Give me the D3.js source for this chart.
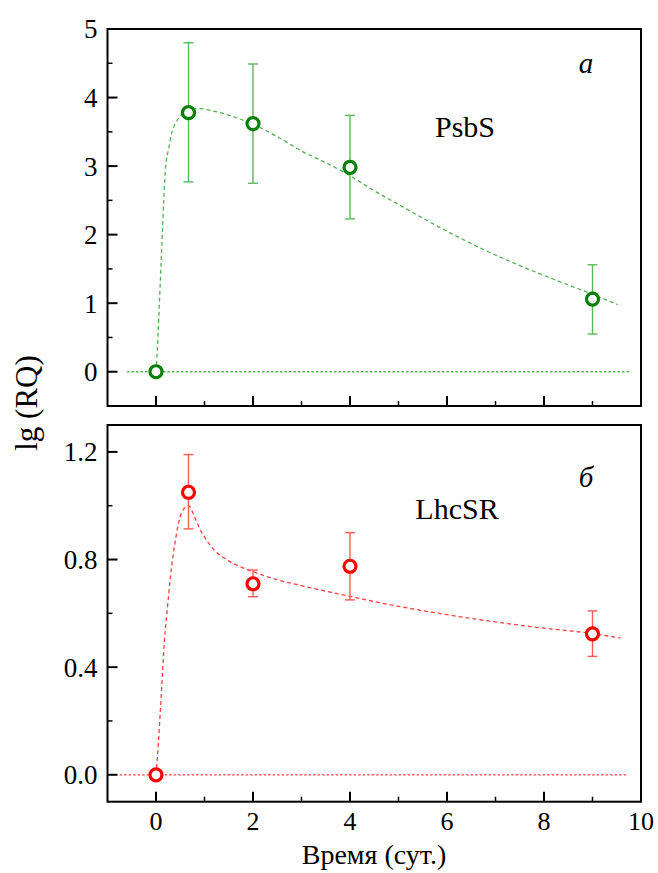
<!DOCTYPE html>
<html>
<head>
<meta charset="utf-8">
<script src="https://cdn.jsdelivr.net/npm/d3@7"></script>
<style>
  body { margin: 0; background: #fff; }
  svg text { font-family: "Liberation Serif", "Times New Roman", "DejaVu Serif", serif; }
</style>
</head>
<body>
<svg width="658" height="873"></svg>
<script>
// measured points (days, lg RQ)
const days = [0, 0.67, 2, 4, 9];

const psbsValues = [0, 3.78, 3.62, 2.98, 1.06];
const psbsLow = [0, 2.77, 2.75, 2.23, 0.55];
const psbsHigh = [0, 4.8, 4.49, 3.74, 1.56];

const lhcValues = [0, 1.05, 0.71, 0.775, 0.524];
const lhcLow = [0, 0.914, 0.662, 0.65, 0.44];
const lhcHigh = [0, 1.19, 0.761, 0.90, 0.609];

// fitted curves
const psbsFitX = [0, 0.04, 0.07, 0.1, 0.13, 0.16, 0.2, 0.26, 0.32, 0.4, 0.49, 0.6, 0.75, 0.9, 1.2, 1.6, 2.0, 2.5, 3.0, 3.5, 4.0, 4.5, 5.0, 5.84, 6.73, 7.6, 8.45, 9.0, 9.52];
const psbsFitY = [0, 0.5, 1.0, 1.5, 2.0, 2.5, 3.0, 3.25, 3.47, 3.62, 3.72, 3.79, 3.83, 3.84, 3.8, 3.72, 3.61, 3.43, 3.22, 3.05, 2.86, 2.64, 2.44, 2.11, 1.79, 1.52, 1.28, 1.13, 0.98];

const lhcFitX = [0, 0.05, 0.09, 0.13, 0.17, 0.23, 0.3, 0.39, 0.47, 0.56, 0.67, 0.78, 0.9, 1.05, 1.2, 1.5, 2.0, 2.5, 3.0, 4.0, 5.0, 6.0, 7.0, 8.0, 9.0, 9.58];
const lhcFitY = [0, 0.12, 0.24, 0.365, 0.49, 0.61, 0.74, 0.86, 0.94, 0.985, 1.0, 0.965, 0.915, 0.87, 0.835, 0.795, 0.755, 0.725, 0.703, 0.663, 0.626, 0.595, 0.568, 0.545, 0.525, 0.508];

const zeroLineTop = [-0.6, 9.8];
const zeroLineBottom = [-0.75, 9.7];

const xTicks = [0, 2, 4, 6, 8, 10];
const xMinor = [1, 3, 5, 7, 9];
const psbsTicks = [0, 1, 2, 3, 4, 5];
const psbsMinor = [0.5, 1.5, 2.5, 3.5, 4.5];
const lhcTicks = [0, 0.4, 0.8, 1.2];
const lhcMinor = [0.2, 0.6, 1.0];

const serif = "Liberation Serif, Times New Roman, DejaVu Serif, serif";
const svg = d3.select("svg");

const x = d3.scaleLinear().domain([-1, 10]).range([107.5, 641]);

function drawPanel(opt) {
    const y = d3.scaleLinear().domain(opt.domain).range(opt.range);
    const g = svg.append("g");
    const [left, right] = x.range();
    const [bottom, top] = y.range();

    // zero reference line
    g.append("line")
        .attr("x1", x(opt.zero[0])).attr("x2", x(opt.zero[1]))
        .attr("y1", y(0)).attr("y2", y(0))
        .attr("stroke", opt.light)
        .attr("stroke-width", 1.3)
        .attr("stroke-dasharray", "2.5,2");

    // fitted curve
    const fit = opt.fitX.map((d, i) => [d, opt.fitY[i]]);
    g.append("path")
        .datum(fit)
        .attr("fill", "none")
        .attr("stroke", opt.light)
        .attr("stroke-width", 1.3)
        .attr("stroke-dasharray", "4,3")
        .attr("d", d3.line().x(d => x(d[0])).y(d => y(d[1])).curve(d3.curveMonotoneX));

    // error bars
    const pts = days.map((d, i) => ({ t: d, v: opt.values[i], lo: opt.low[i], hi: opt.high[i] }))
        .filter(p => p.hi > p.lo);
    const eb = g.selectAll(".eb").data(pts).join("g")
        .attr("stroke", opt.bar)
        .attr("stroke-width", 1.4);
    eb.append("line")
        .attr("x1", p => x(p.t)).attr("x2", p => x(p.t))
        .attr("y1", p => y(p.lo)).attr("y2", p => y(p.hi));
    eb.append("line")
        .attr("x1", p => x(p.t) - 5).attr("x2", p => x(p.t) + 5)
        .attr("y1", p => y(p.lo)).attr("y2", p => y(p.lo));
    eb.append("line")
        .attr("x1", p => x(p.t) - 5).attr("x2", p => x(p.t) + 5)
        .attr("y1", p => y(p.hi)).attr("y2", p => y(p.hi));

    // points
    g.selectAll("circle")
        .data(days.map((d, i) => [d, opt.values[i]]))
        .join("circle")
        .attr("cx", d => x(d[0]))
        .attr("cy", d => y(d[1]))
        .attr("r", 6)
        .attr("fill", "white")
        .attr("stroke", opt.dark)
        .attr("stroke-width", 3.2);

    // ticks (inward)
    g.selectAll(".xt").data(xTicks).join("line")
        .attr("x1", d => x(d)).attr("x2", d => x(d))
        .attr("y1", bottom).attr("y2", bottom - 10)
        .attr("stroke", "black").attr("stroke-width", 2);
    g.selectAll(".xm").data(xMinor).join("line")
        .attr("x1", d => x(d)).attr("x2", d => x(d))
        .attr("y1", bottom).attr("y2", bottom - 5)
        .attr("stroke", "black").attr("stroke-width", 1.5);
    g.selectAll(".yt").data(opt.ticks).join("line")
        .attr("x1", left).attr("x2", left + 10)
        .attr("y1", d => y(d)).attr("y2", d => y(d))
        .attr("stroke", "black").attr("stroke-width", 2);
    g.selectAll(".ym").data(opt.minor).join("line")
        .attr("x1", left).attr("x2", left + 5)
        .attr("y1", d => y(d)).attr("y2", d => y(d))
        .attr("stroke", "black").attr("stroke-width", 1.5);

    g.selectAll(".yl").data(opt.ticks).join("text")
        .attr("x", left - 10)
        .attr("y", d => y(d))
        .attr("dy", "0.35em")
        .attr("text-anchor", "end")
        .attr("font-family", serif)
        .attr("font-size", 27)
        .text(opt.format);

    // frame
    g.append("rect")
        .attr("x", left).attr("y", top)
        .attr("width", right - left).attr("height", bottom - top)
        .attr("fill", "none")
        .attr("stroke", "black")
        .attr("stroke-width", 2);

    g.append("text")
        .attr("x", 586).attr("y", opt.letterY)
        .attr("text-anchor", "middle")
        .attr("font-family", serif)
        .attr("font-size", 29)
        .attr("font-style", "italic")
        .text(opt.letter);
    g.append("text")
        .attr("x", opt.nameX).attr("y", opt.nameY)
        .attr("text-anchor", "middle")
        .attr("font-family", serif)
        .attr("font-size", 30)
        .text(opt.name);

    return g;
}

drawPanel({
    domain: [-0.5, 5], range: [406, 29],
    values: psbsValues, low: psbsLow, high: psbsHigh,
    fitX: psbsFitX, fitY: psbsFitY, zero: zeroLineTop,
    ticks: psbsTicks, minor: psbsMinor, format: d3.format("d"),
    dark: "#008000", bar: "#5cb85c", light: "#55b055",
    letter: "a", letterY: 73, name: "PsbS", nameX: 465, nameY: 137
});

drawPanel({
    domain: [-0.1, 1.3], range: [801.7, 425],
    values: lhcValues, low: lhcLow, high: lhcHigh,
    fitX: lhcFitX, fitY: lhcFitY, zero: zeroLineBottom,
    ticks: lhcTicks, minor: lhcMinor, format: d3.format(".1f"),
    dark: "#ff0000", bar: "#ff5a5a", light: "#ff4040",
    letter: "б", letterY: 487, name: "LhcSR", nameX: 457, nameY: 519
});

// x tick labels, bottom panel only
svg.selectAll(".xl").data(xTicks).join("text")
    .attr("x", d => x(d))
    .attr("y", 830)
    .attr("text-anchor", "middle")
    .attr("font-family", serif)
    .attr("font-size", 26)
    .text(d => d);

svg.append("text")
    .attr("x", 374).attr("y", 864)
    .attr("text-anchor", "middle")
    .attr("font-family", serif)
    .attr("font-size", 28)
    .text("Время (сут.)");

svg.append("text")
    .attr("transform", "translate(37,403) rotate(-90)")
    .attr("text-anchor", "middle")
    .attr("font-family", serif)
    .attr("font-size", 31)
    .text("lg (RQ)");
</script>
</body>
</html>
